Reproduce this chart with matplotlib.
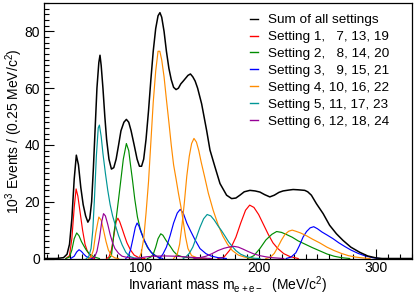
import matplotlib
matplotlib.use("Agg")
import matplotlib.pyplot as plt
from matplotlib.ticker import MultipleLocator
from matplotlib.lines import Line2D

plt.rcParams['font.family'] = ['Liberation Sans', 'DejaVu Sans']
plt.rcParams['mathtext.default'] = 'regular'

# ---------------- data (mass in MeV, counts in 10^3 events / 0.25 MeV) --------------
sum_x = [18, 28.2, 34.3, 37.3, 39.4, 41.4, 43.4, 45.2, 47, 49, 51, 53.1, 55, 56.6, 58.2,
         59.7, 61.2, 62.7, 64.3, 65.3, 66.3, 67.8, 69.4, 70.9, 72.9, 75, 77, 79, 81.1,
         83.1, 85.6, 87.7, 89.7, 91.7, 94.3, 96.8, 98.8, 100.6, 102.4, 104.4, 106.5,
         108.5, 110.5, 112.6, 114.6, 116.2, 117.7, 119.7, 121.7, 123.8, 125.8, 127.8,
         129.9, 131.9, 133.9, 136, 138, 140, 142.1, 144.1, 146.1, 148.2, 151.6, 155.9,
         158.7, 162.9, 167.2, 172.8, 177.1, 180.7, 184.1, 187.8, 192.6, 197, 201.1,
         205.1, 209.5, 213.3, 217.3, 220.8, 225.5, 229.3, 233.6, 239.2, 241.7, 244.8,
         249.1, 254.8, 260.3, 266.1, 271.6, 278.3, 285.8, 292.6, 299.7, 304.8, 330]
sum_y = [0, 0, 0.3, 1.5, 5, 14, 28, 36.4, 33, 25, 19, 15, 12.8, 14, 20,
         32, 46, 60, 69, 71.6, 68, 60, 50, 42, 35, 31.5, 32, 35, 40,
         45, 48, 49, 48, 45, 40, 35, 32.5, 32.5, 35, 42, 52,
         63, 73, 81, 85.5, 86.6, 85, 80, 73, 67, 63, 60.3,
         59.5, 60, 61.5, 62.5, 63.5, 64.5, 65, 64, 62.5, 60, 54.5, 45,
         38.2, 32.3, 26.4, 22.3, 21.1, 21.3, 22.3, 23.5, 24, 23.8, 23.4,
         22.5, 21.7, 22.3, 23.3, 23.8, 24.1, 24.3, 24.2, 24, 23.5, 22.3,
         19.3, 15.8, 11.7, 8.7, 6.4, 4, 2.2, 0.9, 0.2, 0, 0]

# Setting 1, 7, 13, 19 (red)
red_a_x = [36.3, 39.4, 41.4, 43.4, 45, 46.5, 48.5, 50.5, 52.6, 54.6, 57.7, 60.7]
red_a_y = [0, 1, 7, 18, 24.5, 22, 16, 10, 5, 2.5, 0.6, 0]
red_b_x = [70.9, 72.9, 75, 77, 79, 80.5, 82, 84.1, 86.1, 88.2, 91.2, 94.3, 98.3, 103.4]
red_b_y = [0, 0.5, 3, 8, 13, 14.2, 13, 10.5, 8, 5.5, 3, 1.2, 0.3, 0]
red_c_x = [165.5, 170.6, 175.6, 180.7, 184.8, 188.9, 192.4, 196, 200, 204.1, 208.2,
           212.2, 216.3, 221.4, 226.5, 233.6]
red_c_y = [0, 0.5, 3, 7.5, 12.5, 17, 18.8, 18, 15.5, 12, 8.5, 5.5, 3.5, 1.7, 0.7, 0]

# Setting 2, 8, 14, 20 (green)
green_a_x = [36.3, 39.4, 41.4, 43.4, 45.5, 47.5, 49.5, 51.5, 53.6, 56.6, 60.7, 64.8]
green_a_y = [0, 0.5, 3, 7, 9, 8, 6, 4.5, 3, 1.5, 0.5, 0]
green_b_x = [72.9, 75, 77.3, 79, 81.1, 83.1, 85.1, 87.7, 89.7, 91.2, 92.9, 94.8, 97.1,
             99.4, 102.7, 105.5, 108.5, 112.6, 116.6]
green_b_y = [0, 1, 9.5, 14, 21, 28, 35, 40.5, 38, 33, 27.6, 21, 14.6,
             10.5, 6.5, 4, 2.3, 1, 0]
green_c_x = [105.5, 108.5, 110.5, 112.6, 114.6, 116.9, 118.7, 121.2, 125.4, 127.8,
             130.9, 136, 145.1, 155.3]
green_c_y = [0, 0.5, 1.5, 4, 7, 8.7, 8.2, 6.5, 4, 2.5, 1.2, 0.5, 0.2, 0]
green_d_x = [190.9, 196, 201.1, 206.1, 211.2, 215.3, 219.4, 223.4, 228.5, 233.6, 239.7,
             245.8, 251.9, 258, 264.1, 270.2, 277.3]
green_d_y = [0, 1, 3.5, 6.5, 8.5, 9.5, 9.2, 8.5, 7.5, 6.2, 5, 3.8, 2.7, 1.6, 0.8, 0.3, 0]

# Setting 3, 9, 15, 21 (blue)
blue_a_x = [40.4, 43.4, 45.5, 47.5, 49.5, 51.6, 53.6, 56.6, 58.7]
blue_a_y = [0, 0.8, 2.3, 3.1, 2.5, 1.5, 0.7, 0.2, 0]
blue_b_x = [87.2, 89.2, 91.2, 93.3, 95.3, 96.8, 98.3, 100.4, 103.4, 106.5, 109.5,
            112.6, 118.6]
blue_b_y = [0, 0.8, 3, 7, 11, 12.5, 11.5, 9, 6, 3.5, 1.8, 0.8, 0]
blue_c_x = [115.6, 118.7, 121.7, 124.8, 127.8, 130.9, 133.4, 136, 139, 142.1, 146.1,
            150.2, 155.3, 159.4, 165.5, 172.6]
blue_c_y = [0, 1.5, 4, 8, 12.5, 16, 17.3, 16, 12.5, 9.8, 6.5, 3.5, 1.7, 0.9, 0.3, 0]
blue_d_x = [223.4, 227.5, 231.6, 234.6, 237.7, 240.7, 243.8, 246.8, 249.9, 253.9, 258,
            263.1, 268.2, 273.3, 278.3, 284.5, 290.6, 296.7, 302.8]
blue_d_y = [0, 0.5, 2, 4.5, 7.5, 9.5, 10.8, 11.2, 10.5, 9.3, 8.3, 7, 5.5, 4.2, 3, 1.8,
            0.9, 0.3, 0]

# Setting 4, 10, 16, 22 (orange)
orange_a_x = [55.6, 57.7, 59.7, 61.7, 64.3, 66.3, 68.3, 70.4, 72.4, 75, 78, 81.1]
orange_a_y = [0, 0.5, 3, 9, 14.6, 13.5, 10, 6, 3, 1, 0.2, 0]
orange_b_x = [98.3, 100.4, 102.4, 104.4, 106.5, 108.5, 110.5, 112.6, 114.6, 116.1, 117.7,
              119.7, 121.7, 123.8, 125.8, 127.8, 129.9, 131.9, 133.9, 136, 138, 140,
              143.1, 148.2, 155.3]
orange_b_y = [0, 2, 7, 16, 27, 41, 55, 66, 73, 73, 70, 64, 56, 48, 40, 33, 28, 23, 18.5,
              13, 7.5, 3.5, 1, 0.2, 0]
orange_c_x = [127.8, 130.9, 132.9, 135, 137, 139, 141.1, 143.1, 145.1, 147.2, 149.2,
              151.2, 154.3, 157.3, 161.4, 165.5, 169.5, 173.6, 177.7, 182.8, 188.9, 196]
orange_c_y = [0, 1.5, 5, 12, 20, 29, 36, 40.5, 42.3, 41, 38, 34, 28.5, 23, 17, 12, 8, 5,
              2.8, 1.2, 0.4, 0]
orange_d_x = [206.1, 210.2, 213.3, 216.3, 219.4, 222.4, 225.5, 228.5, 231.6, 235.6, 240.7,
              245.8, 251.9, 258, 264.1, 270.2, 276.3, 282.4, 288.5, 294.6]
orange_d_y = [0, 0.5, 1.8, 4, 6.5, 8.5, 9.6, 10, 9.6, 9, 8, 6.8, 5.5, 4, 2.8, 1.8, 1,
              0.5, 0.2, 0]

# Setting 5, 11, 17, 23 (teal)
teal_a_x = [53.6, 55.6, 57.7, 59.2, 60.7, 62.2, 63.8, 64.8, 66.3, 67.8, 69.9, 71.9, 73.9,
            76, 78.5, 81.1, 84.1, 87.2, 90.2, 94.3, 99.4]
teal_a_y = [0, 0.5, 3.5, 10, 22, 36, 46, 47, 43, 37, 30, 24, 19, 15, 11.5, 8, 4.8, 2.2,
            0.8, 0.2, 0]
teal_b_x = [136, 138, 141.1, 144.1, 147.2, 150.2, 153.3, 156.3, 159.4, 162.4, 165.5,
            168.5, 171.6, 174.6, 177.7, 180.7, 184.8, 189.9, 196, 201.1]
teal_b_y = [0, 0.5, 1.8, 4, 7.5, 11, 14, 15.5, 15, 13.5, 11.5, 9.8, 7.8, 5.8, 4.2, 2.8,
            1.5, 0.6, 0.1, 0]

# Setting 6, 12, 18, 24 (purple)
purple_a_x = [58.7, 60.7, 62.7, 64.8, 66.8, 68.3, 69.9, 71.9, 73.9, 76, 78, 81.1, 84.1,
              89.2, 94.3]
purple_a_y = [0, 0.5, 2.5, 7, 13, 15.8, 15, 12, 8.5, 5.5, 3.5, 1.8, 0.8, 0.3, 0]
purple_b_x = [95, 100, 105, 110, 120, 130, 140, 150, 160]
purple_b_y = [0, 0.3, 0.6, 0.8, 0.9, 0.8, 0.5, 0.2, 0]
purple_c_x = [145.1, 150.2, 155.3, 160.4, 165.5, 170.6, 175.6, 178.7, 182.8, 186.8, 190.9,
              196, 201.1, 206.1, 211.2, 221.4]
purple_c_y = [0, 0.3, 0.8, 1.7, 2.8, 3.6, 4.1, 4.3, 4, 3.3, 2.5, 1.6, 1, 0.6, 0.3, 0]

legend_labels = ["Sum of all settings",
                 "Setting 1,   7, 13, 19",
                 "Setting 2,   8, 14, 20",
                 "Setting 3,   9, 15, 21",
                 "Setting 4, 10, 16, 22",
                 "Setting 5, 11, 17, 23",
                 "Setting 6, 12, 18, 24"]
colors = ["black", "#ff0000", "#008c00", "#0000ff", "#ff8c00", "#009696", "#960096"]

groups = [
    [(red_a_x, red_a_y), (red_b_x, red_b_y), (red_c_x, red_c_y)],
    [(green_a_x, green_a_y), (green_b_x, green_b_y), (green_c_x, green_c_y), (green_d_x, green_d_y)],
    [(blue_a_x, blue_a_y), (blue_b_x, blue_b_y), (blue_c_x, blue_c_y), (blue_d_x, blue_d_y)],
    [(orange_a_x, orange_a_y), (orange_b_x, orange_b_y), (orange_c_x, orange_c_y), (orange_d_x, orange_d_y)],
    [(teal_a_x, teal_a_y), (teal_b_x, teal_b_y)],
    [(purple_a_x, purple_a_y), (purple_b_x, purple_b_y), (purple_c_x, purple_c_y)],
]

# ---------------- figure ----------------
W, H = 415, 295
fig = plt.figure(figsize=(W / 100, H / 100), dpi=100)
L, R, T, B = 44.3, 411.7, 3.0, 258.5
ax = fig.add_axes([L / W, 1 - B / H, (R - L) / W, (B - T) / H])

for ci, grp in enumerate(groups):
    for (xs, ys) in grp:
        ax.plot(xs, ys, color=colors[ci + 1], lw=0.85, solid_joinstyle='round')
ax.plot(sum_x, sum_y, color="black", lw=1.1, solid_joinstyle='round')

ax.set_xlim(18, 330)
ax.set_ylim(0, 90)

ax.xaxis.set_major_locator(MultipleLocator(100))
ax.xaxis.set_minor_locator(MultipleLocator(10))
ax.yaxis.set_major_locator(MultipleLocator(20))
ax.yaxis.set_minor_locator(MultipleLocator(2))
ax.tick_params(which='both', direction='in', top=False, right=False, labelsize=10)
ax.tick_params(which='major', length=7, width=0.8)
ax.tick_params(which='minor', length=3.5, width=0.8)
ax.tick_params(axis='x', pad=1.5)
ax.tick_params(axis='y', pad=3)
for s in ax.spines.values():
    s.set_linewidth(0.9)

fig.text(((L + R) / 2) / W, 1 - 289.5 / H,
         r"Invariant mass m$_{\mathregular{e+e-}}$  (MeV/c$^{\mathregular{2}}$)",
         ha='center', va='baseline', fontsize=10)
fig.text(14 / W, 1 - ((T + B) / 2) / H,
         r"10$^{\mathregular{3}}$ Events / (0.25 MeV/c$^{\mathregular{2}}$)",
         ha='center', va='center', rotation=90, fontsize=10)

handles = [Line2D([], [], color=c, lw=1.0) for c in colors]
leg = ax.legend(handles, legend_labels, loc='upper left',
                bbox_to_anchor=((250 - L) / (R - L), 1 - (14 - T) / (B - T)),
                frameon=False, fontsize=9.7, handlelength=0.6, handletextpad=0.7,
                labelspacing=0.33, borderaxespad=0, borderpad=0)

fig.savefig("out.png", dpi=100)
